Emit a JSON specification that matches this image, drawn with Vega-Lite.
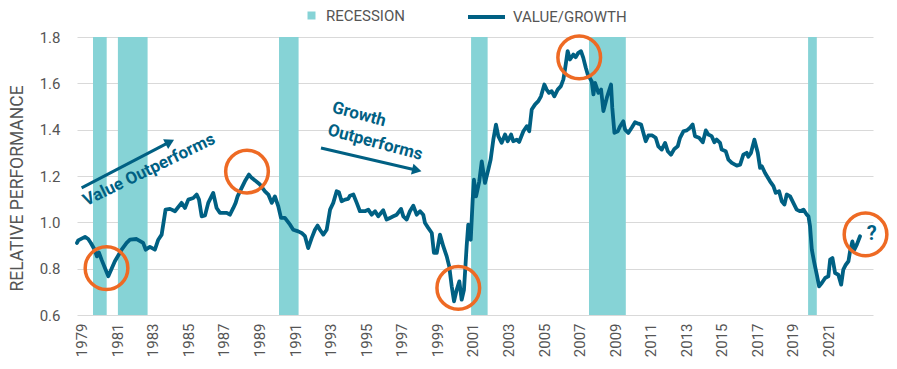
{
  "$schema": "https://vega.github.io/schema/vega-lite/v6.json",
  "width": 796,
  "height": 278,
  "autosize": {"type": "none"},
  "padding": {"left": 77, "top": 37, "right": 24, "bottom": 54},
  "config": {
    "view": {"stroke": null},
    "font": "Roboto",
    "text": {"font": "Roboto"},
    "axisX": {"labelAngle": -90, "labelFontSize": 15, "labelColor": "#555555", "labelFont": "Roboto", "labelPadding": 8, "domain": false, "ticks": false, "grid": false, "labelOverlap": false, "labelFlush": false},
    "axisY": {"grid": true, "gridColor": "#D9D9D9", "gridWidth": 1, "domain": false, "ticks": false, "labelPadding": 17, "labelFontSize": 15, "labelColor": "#555555", "labelFont": "Roboto", "labelOverlap": false, "titleFontSize": 17.5, "titleFontWeight": "normal", "titleColor": "#555555", "titleFont": "Roboto", "titleX": -60, "titleY": 151, "titleAngle": 270, "titleAlign": "center", "titleBaseline": "middle"}
  },
  "datasets": {
    "line": [
      {"year":1978.74,"value":0.911},{"year":1978.81,"value":0.922},{"year":1979.19,"value":0.937},{"year":1979.37,"value":0.928},{"year":1979.52,"value":0.911},{"year":1979.71,"value":0.885},{"year":1979.86,"value":0.853},{"year":1979.97,"value":0.870},{"year":1980.12,"value":0.839},{"year":1980.50,"value":0.767},{"year":1980.87,"value":0.832},{"year":1981.25,"value":0.882},{"year":1981.53,"value":0.911},{"year":1981.72,"value":0.925},{"year":1982.09,"value":0.928},{"year":1982.46,"value":0.911},{"year":1982.60,"value":0.882},{"year":1982.84,"value":0.894},{"year":1983.12,"value":0.882},{"year":1983.31,"value":0.925},{"year":1983.50,"value":0.947},{"year":1983.72,"value":1.055},{"year":1983.97,"value":1.058},
      {"year":1984.25,"value":1.048},{"year":1984.62,"value":1.084},{"year":1984.81,"value":1.062},{"year":1985.00,"value":1.098},{"year":1985.28,"value":1.105},{"year":1985.47,"value":1.120},{"year":1985.60,"value":1.098},{"year":1985.75,"value":1.026},{"year":1985.94,"value":1.030},{"year":1986.12,"value":1.084},{"year":1986.40,"value":1.127},{"year":1986.59,"value":1.062},{"year":1986.78,"value":1.041},{"year":1987.16,"value":1.041},{"year":1987.34,"value":1.033},{"year":1987.53,"value":1.062},{"year":1987.66,"value":1.084},{"year":1987.77,"value":1.112},{"year":1988.00,"value":1.149},{"year":1988.18,"value":1.177},{"year":1988.41,"value":1.206},{"year":1988.56,"value":1.192},{"year":1988.75,"value":1.181},{"year":1989.03,"value":1.163},{"year":1989.31,"value":1.134},{"year":1989.50,"value":1.120},{"year":1989.69,"value":1.084},{"year":1989.87,"value":1.112},{"year":1990.06,"value":1.069},{"year":1990.21,"value":1.019},{"year":1990.43,"value":1.019},{"year":1990.72,"value":0.990},{"year":1990.90,"value":0.968},{"year":1991.18,"value":0.961},
      {"year":1991.37,"value":0.954},{"year":1991.56,"value":0.940},{"year":1991.74,"value":0.889},{"year":1991.94,"value":0.933},{"year":1992.12,"value":0.968},{"year":1992.27,"value":0.986},{"year":1992.40,"value":0.968},{"year":1992.59,"value":0.947},{"year":1992.78,"value":0.968},{"year":1992.97,"value":1.055},{"year":1993.15,"value":1.084},{"year":1993.34,"value":1.134},{"year":1993.47,"value":1.130},{"year":1993.62,"value":1.091},{"year":1993.81,"value":1.098},{"year":1993.99,"value":1.101},{"year":1994.09,"value":1.115},{"year":1994.28,"value":1.120},{"year":1994.47,"value":1.084},{"year":1994.65,"value":1.048},{"year":1994.93,"value":1.048},{"year":1995.12,"value":1.055},{"year":1995.31,"value":1.033},{"year":1995.50,"value":1.048},{"year":1995.68,"value":1.026},{"year":1995.96,"value":1.052},{"year":1996.15,"value":1.012},{"year":1996.34,"value":1.019},{"year":1996.53,"value":1.026},{"year":1996.72,"value":1.033},{"year":1996.96,"value":1.058},{"year":1997.09,"value":1.026},{"year":1997.28,"value":1.012},{"year":1997.46,"value":1.048},{"year":1997.65,"value":1.072},{"year":1997.84,"value":1.033},{"year":1998.03,"value":1.048},{"year":1998.21,"value":1.033},{"year":1998.31,"value":0.997},{"year":1998.49,"value":0.976},{"year":1998.69,"value":0.954},{"year":1998.81,"value":0.868},{"year":1998.97,"value":0.868},{"year":1999.15,"value":0.947},{"year":1999.34,"value":0.896},{"year":1999.53,"value":0.853},{"year":1999.67,"value":0.810},{"year":1999.81,"value":0.724},{"year":1999.94,"value":0.659},{"year":2000.09,"value":0.709},{"year":2000.24,"value":0.745},{"year":2000.37,"value":0.666},{"year":2000.50,"value":0.709},{"year":2000.65,"value":0.896},{"year":2000.74,"value":0.990},{"year":2000.88,"value":0.925},{"year":2000.99,"value":1.098},{"year":2001.06,"value":1.184},{"year":2001.18,"value":1.112},{"year":2001.36,"value":1.177},{"year":2001.50,"value":1.263},{"year":2001.68,"value":1.170},{"year":2001.87,"value":1.228},{"year":2002.00,"value":1.271},{"year":2002.15,"value":1.357},{"year":2002.30,"value":1.422},{"year":2002.43,"value":1.372},
      {"year":2002.62,"value":1.343},{"year":2002.81,"value":1.379},{"year":2002.96,"value":1.350},{"year":2003.15,"value":1.379},{"year":2003.27,"value":1.350},{"year":2003.47,"value":1.357},{"year":2003.60,"value":1.347},{"year":2003.84,"value":1.393},{"year":2004.03,"value":1.415},{"year":2004.17,"value":1.393},{"year":2004.31,"value":1.487},{"year":2004.50,"value":1.509},{"year":2004.68,"value":1.523},{"year":2004.83,"value":1.544},{"year":2005.02,"value":1.595},{"year":2005.15,"value":1.573},{"year":2005.28,"value":1.559},{"year":2005.43,"value":1.566},{"year":2005.58,"value":1.544},{"year":2005.77,"value":1.573},{"year":2005.95,"value":1.588},{"year":2006.09,"value":1.617},{"year":2006.18,"value":1.660},{"year":2006.33,"value":1.739},{"year":2006.46,"value":1.703},{"year":2006.65,"value":1.724},{"year":2006.78,"value":1.713},{"year":2006.93,"value":1.732},{"year":2007.08,"value":1.739},{"year":2007.21,"value":1.710},{"year":2007.35,"value":1.667},{"year":2007.46,"value":1.638},{"year":2007.68,"value":1.609},{"year":2007.78,"value":1.552},{"year":2007.87,"value":1.602},{"year":2008.06,"value":1.559},{"year":2008.21,"value":1.573},{"year":2008.34,"value":1.480},{"year":2008.53,"value":1.537},{"year":2008.77,"value":1.595},{"year":2008.84,"value":1.494},{"year":2008.96,"value":1.386},
      {"year":2009.15,"value":1.393},{"year":2009.28,"value":1.415},{"year":2009.46,"value":1.436},{"year":2009.56,"value":1.400},{"year":2009.74,"value":1.386},{"year":2009.93,"value":1.408},{"year":2010.12,"value":1.432},{"year":2010.31,"value":1.426},{"year":2010.46,"value":1.422},{"year":2010.59,"value":1.386},{"year":2010.72,"value":1.350},{"year":2010.87,"value":1.375},{"year":2011.09,"value":1.375},{"year":2011.28,"value":1.365},{"year":2011.43,"value":1.328},{"year":2011.62,"value":1.314},{"year":2011.81,"value":1.343},{"year":2011.96,"value":1.307},{"year":2012.14,"value":1.292},{"year":2012.33,"value":1.317},{"year":2012.52,"value":1.328},{"year":2012.65,"value":1.365},{"year":2012.84,"value":1.393},{"year":2013.03,"value":1.397},{"year":2013.21,"value":1.408},{"year":2013.36,"value":1.422},{"year":2013.49,"value":1.372},{"year":2013.72,"value":1.365},{"year":2013.93,"value":1.346},{"year":2014.10,"value":1.397},{"year":2014.24,"value":1.379},{"year":2014.43,"value":1.372},{"year":2014.58,"value":1.346},{"year":2014.71,"value":1.357},{"year":2014.90,"value":1.343},{"year":2014.99,"value":1.314},{"year":2015.22,"value":1.307},{"year":2015.37,"value":1.271},{"year":2015.56,"value":1.257},{"year":2015.84,"value":1.245},{"year":2016.03,"value":1.249},{"year":2016.21,"value":1.292},{"year":2016.40,"value":1.300},{"year":2016.49,"value":1.283},{"year":2016.64,"value":1.300},{"year":2016.83,"value":1.357},{"year":2017.02,"value":1.300},{"year":2017.15,"value":1.235},
      {"year":2017.25,"value":1.242},{"year":2017.43,"value":1.213},{"year":2017.71,"value":1.177},{"year":2017.90,"value":1.156},{"year":2018.03,"value":1.127},{"year":2018.22,"value":1.134},{"year":2018.37,"value":1.091},{"year":2018.52,"value":1.077},{"year":2018.65,"value":1.120},{"year":2018.84,"value":1.112},{"year":2019.02,"value":1.084},{"year":2019.21,"value":1.055},{"year":2019.40,"value":1.048},{"year":2019.59,"value":1.055},{"year":2019.78,"value":1.033},{"year":2019.87,"value":1.026},{"year":2019.96,"value":0.983},{"year":2020.06,"value":0.882},{"year":2020.20,"value":0.825},{"year":2020.34,"value":0.774},{"year":2020.47,"value":0.724},{"year":2020.62,"value":0.738},{"year":2020.81,"value":0.760},{"year":2020.99,"value":0.767},{"year":2021.09,"value":0.839},{"year":2021.22,"value":0.846},{"year":2021.37,"value":0.781},{"year":2021.55,"value":0.774},{"year":2021.71,"value":0.731},{"year":2021.83,"value":0.796},{"year":2021.97,"value":0.817},{"year":2022.12,"value":0.832},{"year":2022.21,"value":0.875},{"year":2022.34,"value":0.918},{"year":2022.45,"value":0.882},{"year":2022.59,"value":0.904},{"year":2022.77,"value":0.940}
    ],
    "recession": [
      {"start":1979.64,"end":1980.41,"type":"RECESSION"},
      {"start":1981.04,"end":1982.71,"type":"RECESSION"},
      {"start":1990.10,"end":1991.20,"type":"RECESSION"},
      {"start":2000.90,"end":2001.83,"type":"RECESSION"},
      {"start":2007.53,"end":2009.60,"type":"RECESSION"},
      {"start":2019.85,"end":2020.34,"type":"RECESSION"}
    ],
    "circles": [
      {"year":1980.40,"value":0.802},
      {"year":1988.30,"value":1.219},
      {"year":2000.18,"value":0.717},
      {"year":2006.98,"value":1.712},
      {"year":2023.08,"value":0.948}
    ],
    "arrows": [
      {"id":"value","x1":1979.0,"y1":1.149,"x2":1983.96,"y2":1.347},
      {"id":"growth","x1":1992.46,"y1":1.321,"x2":1997.85,"y2":1.225}
    ],
    "labels": [
      {"id":"value","text":"Value Outperforms","year":1982.79,"value":1.226},
      {"id":"growth","text":"Growth","year":1994.60,"value":1.465},
      {"id":"growth","text":"Outperforms","year":1995.50,"value":1.344},
      {"id":"q","text":"?","year":2023.43,"value":0.951}
    ]
  },
  "layer": [
    {
      "data": {"name": "recession"},
      "mark": {"type": "rect"},
      "encoding": {
        "x": {"field": "start", "type": "quantitative", "scale": {"domain": [1978.74, 2023.5], "nice": false, "zero": false},
          "axis": {"title": null, "values": [1979,1981,1983,1985,1987,1989,1991,1993,1995,1997,1999,2001,2003,2005,2007,2009,2011,2013,2015,2017,2019,2021], "tickCount": 40, "format": "d", "labelOverlap": false}},
        "x2": {"field": "end"},
        "y": {"datum": 0.6, "type": "quantitative", "scale": {"domain": [0.6, 1.8], "nice": false, "zero": false},
          "axis": {"title": "RELATIVE PERFORMANCE", "values": [0.6,0.8,1.0,1.2,1.4,1.6,1.8], "tickCount": 10, "format": ".1f"}},
        "y2": {"datum": 1.8},
        "fill": {"field": "type", "type": "nominal", "scale": {"range": ["#86D3D6"]},
          "legend": {"title": null, "orient": "none", "legendX": 227, "legendY": -29, "symbolType": "square", "symbolSize": 64, "symbolStrokeWidth": 0, "labelFontSize": 15, "labelColor": "#555555", "labelFont": "Roboto", "labelOffset": 7, "padding": 0}}
      }
    },
    {
      "data": {"name": "line"},
      "mark": {"type": "line", "strokeWidth": 3.8, "strokeJoin": "round", "strokeCap": "round"},
      "encoding": {
        "x": {"field": "year", "type": "quantitative"},
        "y": {"field": "value", "type": "quantitative"},
        "stroke": {"datum": "VALUE/GROWTH", "type": "nominal", "scale": {"range": ["#006083"]},
          "legend": {"title": null, "orient": "none", "legendX": 389, "legendY": -40.5, "symbolType": "stroke", "symbolSize": 1369, "symbolStrokeWidth": 4, "labelFontSize": 15, "labelColor": "#555555", "labelFont": "Roboto", "labelOffset": 6, "padding": 0}}
      }
    },
    {
      "data": {"name": "circles"},
      "mark": {"type": "point", "shape": "circle", "filled": false, "stroke": "#EE6A24", "strokeWidth": 3.5, "size": 1820, "opacity": 1},
      "encoding": {
        "x": {"field": "year", "type": "quantitative"},
        "y": {"field": "value", "type": "quantitative"}
      }
    },
    {
      "data": {"name": "arrows"},
      "mark": {"type": "rule", "stroke": "#006083", "strokeWidth": 3},
      "encoding": {
        "x": {"field": "x1", "type": "quantitative"},
        "y": {"field": "y1", "type": "quantitative"},
        "x2": {"field": "x2"},
        "y2": {"field": "y2"}
      }
    },
    {
      "data": {"name": "arrows"},
      "transform": [{"filter": "datum.id == 'value'"}],
      "mark": {"type": "point", "shape": "triangle-up", "filled": true, "fill": "#006083", "size": 120, "angle": 62.5, "opacity": 1},
      "encoding": {
        "x": {"field": "x2", "type": "quantitative"},
        "y": {"field": "y2", "type": "quantitative"}
      }
    },
    {
      "data": {"name": "arrows"},
      "transform": [{"filter": "datum.id == 'growth'"}],
      "mark": {"type": "point", "shape": "triangle-up", "filled": true, "fill": "#006083", "size": 120, "angle": 103, "opacity": 1},
      "encoding": {
        "x": {"field": "x2", "type": "quantitative"},
        "y": {"field": "y2", "type": "quantitative"}
      }
    },
    {
      "data": {"name": "labels"},
      "transform": [{"filter": "datum.id == 'value'"}],
      "mark": {"type": "text", "font": "Roboto", "fontSize": 17, "fontWeight": "bold", "fill": "#006083", "angle": 334, "align": "center", "baseline": "middle"},
      "encoding": {
        "x": {"field": "year", "type": "quantitative"},
        "y": {"field": "value", "type": "quantitative"},
        "text": {"field": "text"}
      }
    },
    {
      "data": {"name": "labels"},
      "transform": [{"filter": "datum.id == 'growth'"}],
      "mark": {"type": "text", "font": "Roboto", "fontSize": 17, "fontWeight": "bold", "fill": "#006083", "angle": 15, "align": "center", "baseline": "middle"},
      "encoding": {
        "x": {"field": "year", "type": "quantitative"},
        "y": {"field": "value", "type": "quantitative"},
        "text": {"field": "text"}
      }
    },
    {
      "data": {"name": "labels"},
      "transform": [{"filter": "datum.id == 'q'"}],
      "mark": {"type": "text", "font": "Roboto", "fontSize": 20, "fontWeight": "bold", "fill": "#006083", "align": "center", "baseline": "middle"},
      "encoding": {
        "x": {"field": "year", "type": "quantitative"},
        "y": {"field": "value", "type": "quantitative"},
        "text": {"field": "text"}
      }
    }
  ]
}
